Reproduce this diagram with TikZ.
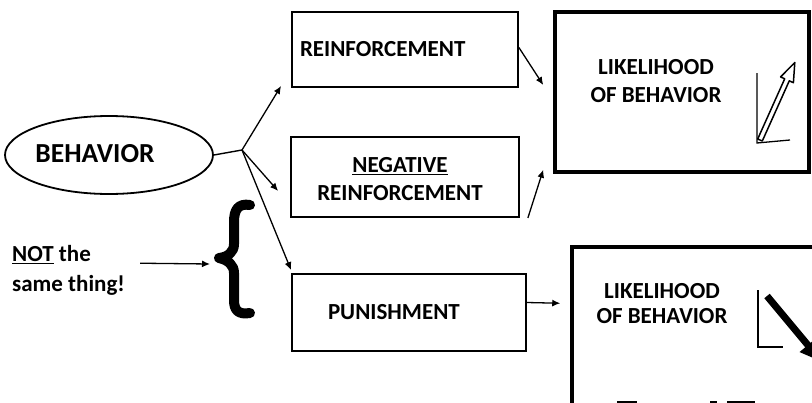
\documentclass[tikz,border=0pt]{standalone}
\usepackage{fontspec}
\setmainfont{Carlito}
\usetikzlibrary{arrows.meta,shapes.geometric}

\tikzset{
  box/.style={draw, line width=1.8pt, rectangle, inner sep=0pt},
  bigbox/.style={draw, line width=3.5pt, rectangle, inner sep=0pt},
  lbl/.style={font=\fontsize{23}{28}\selectfont\bfseries},
  conn/.style={line width=1.3pt, -{Latex[length=8pt,width=7pt]}},
  wire/.style={line width=1.4pt},
}

\begin{document}
\begin{tikzpicture}[x=1pt, y=-1pt]
\useasboundingbox (0,0) rectangle (812,402);
\clip (0,0) rectangle (812,402);

% central behaviour
\node[draw, ellipse, line width=1.8pt, minimum width=208pt, minimum height=78pt] (beh) at (109,155) {};
\node[font=\fontsize{27.5}{30}\selectfont\bfseries] (behtxt) at (95,154) {BEHAVIOR};
\coordinate (j) at (242,150);

% consequence boxes
\node[box, minimum width=226pt, minimum height=75pt, text width=210pt, align=left,
      lbl] (reinf) at (405,49.5) {REINFORCEMENT};
\node[box, minimum width=228pt, minimum height=80pt, lbl] (neg) at (405,177) {};
\node[lbl, align=center] (negtxt) at (400,179) {\underline{NEGATIVE}\\REINFORCEMENT};
\node[box, minimum width=234pt, minimum height=77pt, text width=162pt, align=left,
      lbl] (pun) at (409,312.5) {PUNISHMENT};

% likelihood boxes
\node[bigbox, minimum width=254pt, minimum height=160pt] (like1) at (682,92) {};
\node[lbl, align=center] (like1txt) at (656,81) {LIKELIHOOD\\OF BEHAVIOR};
\node[bigbox, minimum width=328pt, minimum height=203pt] (like2) at (736,348.5) {};
\node[align=center, font=\fontsize{23}{25}\selectfont\bfseries] (like2txt) at (662,304) {LIKELIHOOD\\OF BEHAVIOR};

% side remark with brace
\node[align=left, font=\fontsize{23}{30}\selectfont\bfseries, anchor=north west, inner sep=0pt]
     (nottxt) at (12,245) {\underline{NOT} the\\same thing!};
\coordinate (brace) at (219,258);
\draw[line width=10pt, line cap=round, line join=round]
  (250,205) .. controls (238,203) and (234,210) .. (234,222) -- (234,244)
  .. controls (234,252) and (228,257) .. (brace)
  .. controls (228,260) and (234,265) .. (234,273) -- (234,300)
  .. controls (234,310) and (238,315) .. (250,313);
\draw[conn] ([xshift=15pt,yshift=7pt]nottxt.east) -- ([xshift=-9pt,yshift=-6pt]brace);

% connectors
\draw[wire] (beh.east) -- (j);
\draw[conn] (j) -- ([xshift=-10pt,yshift=2pt]reinf.south west);
\draw[conn] (j) -- ([xshift=-12pt,yshift=-14pt]neg.west);
\draw[conn] (j) -- ([yshift=3pt]pun.north west);
\draw[conn] ([yshift=2pt]reinf.east) -- ([xshift=-10pt,yshift=7pt]like1.west);
\draw[conn] ([xshift=8pt]neg.south east) -- ([xshift=-10pt,yshift=4pt]like1.south west);
\draw[conn] ([yshift=10pt]pun.east) -- ([xshift=-10pt,yshift=-58pt]like2.north west);

% rising trend icon
\draw[line width=1.3pt] (757,73) -- (757,143) -- (790,140);
\draw[line width=1.5pt, fill=white, line join=round]
  (757.7,139.0) -- (784.7,78.8) -- (780.6,76.9) -- (794.8,62.5)
  -- (793.4,82.7) -- (789.3,80.8) -- (762.3,141.0) -- cycle;

% falling trend icon
\draw[line width=1.3pt] (758,290) -- (758,347) -- (783,347);
\draw[line width=7pt, -{Triangle[length=22pt,width=20pt]}] (767,296) -- (822,362);

% cut-off marks along the lower edge
\draw[line width=2pt] (617,402) -- (637,402);
\draw[line width=2pt] (710,402) -- (717,402);
\draw[line width=2pt] (727,402) -- (755,402);
\end{tikzpicture}
\end{document}
